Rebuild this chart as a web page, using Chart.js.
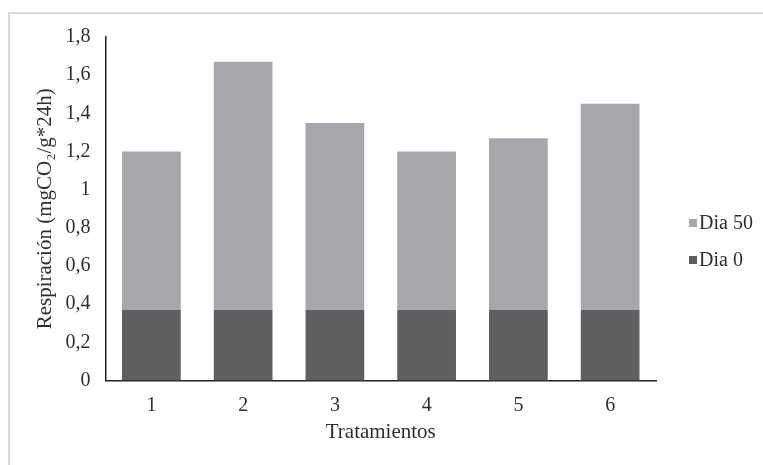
<!DOCTYPE html>
<html>
<head>
<meta charset="utf-8">
<script src="https://cdn.jsdelivr.net/npm/chart.js@4/dist/chart.umd.min.js"></script>
<style>
  html, body { margin: 0; padding: 0; background: #ffffff; }
  #wrap { position: relative; width: 763px; height: 465px; overflow: hidden; }
  #frame { position: absolute; left: 8px; top: 12px; right: -4px; bottom: -4px;
           border-top: 2px solid #d9d9d9; border-left: 2px solid #d9d9d9; }
  canvas { position: absolute; left: 0; top: 0; }
</style>
</head>
<body>
<div id="wrap">
  <div id="frame"></div>
  <canvas id="c" width="763" height="465"></canvas>
</div>
<script>
// Treatments on the x axis
const categories = ['1', '2', '3', '4', '5', '6'];
// Respiration at day 0 (base of each stack)
const dia0 = [0.37, 0.37, 0.37, 0.37, 0.37, 0.37];
// Increase reached at day 50 (stacked on top of day 0)
const dia50 = [0.83, 1.30, 0.98, 0.83, 0.90, 1.08];
// Y axis tick labels, decimal comma
const yTickLabels = ['0', '0,2', '0,4', '0,6', '0,8', '1', '1,2', '1,4', '1,6', '1,8'];

const FONT = "'Liberation Serif', 'Times New Roman', serif";
const TEXT = '#2e2e2e';

// Legend drawn to the right of the plot, Dia 50 listed first
const sideLegend = {
  id: 'sideLegend',
  afterDraw(chart) {
    const ctx = chart.ctx;
    const items = chart.data.datasets.slice().reverse();
    const x = 689, y0 = 223, gap = 37;
    ctx.save();
    ctx.font = '20px ' + FONT;
    ctx.textBaseline = 'middle';
    ctx.textAlign = 'left';
    items.forEach((ds, i) => {
      const y = y0 + i * gap;
      ctx.fillStyle = ds.backgroundColor;
      ctx.fillRect(x, y - 4, 8, 8);
      ctx.fillStyle = TEXT;
      ctx.fillText(ds.label, x + 10, y + 1);
    });
    ctx.restore();
  }
};

new Chart(document.getElementById('c'), {
  type: 'bar',
  data: {
    labels: categories,
    datasets: [
      { label: 'Dia 0', data: dia0, backgroundColor: '#5f5f62', borderWidth: 0 },
      { label: 'Dia 50', data: dia50, backgroundColor: '#a6a7ab', borderWidth: 0 }
    ]
  },
  options: {
    responsive: false,
    animation: false,
    devicePixelRatio: 1,
    layout: { padding: { left: 33, top: 37, right: 107, bottom: 20 } },
    datasets: { bar: { barPercentage: 0.64, categoryPercentage: 1.0 } },
    plugins: { legend: { display: false }, tooltip: { enabled: false } },
    scales: {
      x: {
        stacked: true,
        grid: { display: false, drawTicks: false, tickLength: 0 },
        border: { display: true, color: '#222222', width: 1.5 },
        ticks: { color: TEXT, font: { family: FONT, size: 20 }, padding: 13 },
        title: { display: true, text: 'Tratamientos', color: TEXT,
                 font: { family: FONT, size: 21 }, padding: { top: 0, bottom: 0 } },
        afterFit(scale) { scale.height = 64.5; }
      },
      y: {
        stacked: true,
        min: 0,
        max: 1.8,
        grid: { display: false, drawTicks: false, tickLength: 0 },
        border: { display: true, color: '#222222', width: 1.5 },
        ticks: {
          stepSize: 0.2,
          color: TEXT,
          font: { family: FONT, size: 20 },
          padding: 15,
          callback: (v, i) => yTickLabels[i]
        },
        title: { display: true, text: 'Respiración (mgCO₂/g*24h)', color: TEXT,
                 font: { family: FONT, size: 21 }, padding: { top: 0, bottom: 0 } },
        afterFit(scale) { scale.width = 72.5; }
      }
    }
  },
  plugins: [sideLegend]
});
</script>
</body>
</html>
